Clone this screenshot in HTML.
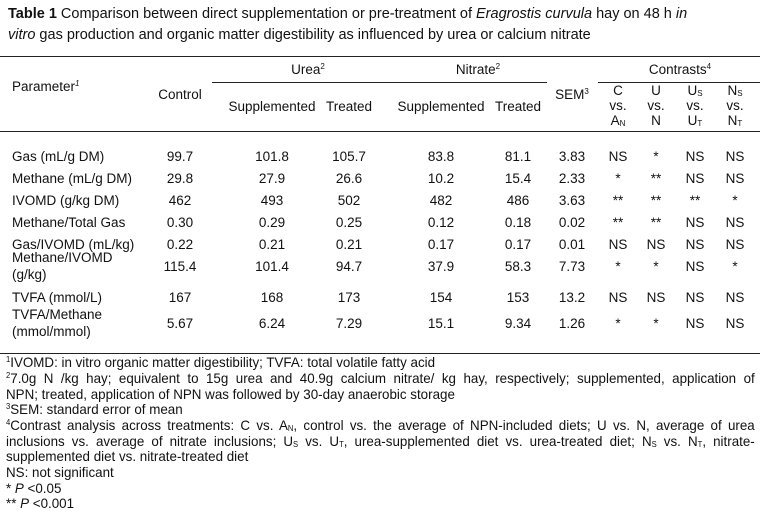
<!DOCTYPE html>
<html><head><meta charset="utf-8"><style>
body{margin:0;width:760px;height:512px;background:#fff;position:relative;overflow:hidden;font-family:"Liberation Sans",Arial,sans-serif;color:#111}
.t{position:absolute;font-size:13.5px;white-space:nowrap;line-height:17px}
.c{text-align:center;transform:translateX(-50%)}
.l{position:absolute;height:1px;background:#222}
.f{position:absolute;left:6px;font-size:14px;white-space:nowrap;transform:scaleX(0.955);transform-origin:left;line-height:16px;width:784px}
.j{text-align:justify;text-align-last:justify}
sup{font-size:8px;vertical-align:5px;line-height:0}
sub{font-size:8px;vertical-align:-1px;line-height:0}
</style></head><body>
<div class="t" style="left:8px;top:4px;font-size:14.5px;line-height:21px"><b>Table 1</b> Comparison between direct supplementation or pre-treatment of <i>Eragrostis curvula</i> hay on 48 h <i>in</i><br><i>vitro</i> gas production and organic matter digestibility as influenced by urea or calcium nitrate</div>
<div class="l" style="left:0;top:56px;width:760px"></div>
<div class="l" style="left:212px;top:82px;width:335px"></div>
<div class="l" style="left:598px;top:82px;width:162px"></div>
<div class="l" style="left:0;top:131px;width:760px"></div>
<div class="l" style="left:0;top:353px;width:760px"></div>
<div id="tbl"></div>
<div class="t" style="left:12px;top:78px">Parameter<sup><i>1</i></sup></div>
<div class="t c" style="left:180px;top:86px">Control</div>
<div class="t c" style="left:308px;top:61px">Urea<sup>2</sup></div>
<div class="t c" style="left:478px;top:61px">Nitrate<sup>2</sup></div>
<div class="t c" style="left:680px;top:61px">Contrasts<sup>4</sup></div>
<div class="t c" style="left:272px;top:98px">Supplemented</div>
<div class="t c" style="left:349px;top:98px">Treated</div>
<div class="t c" style="left:441px;top:98px">Supplemented</div>
<div class="t c" style="left:518px;top:98px">Treated</div>
<div class="t c" style="left:572px;top:86px">SEM<sup>3</sup></div>
<div class="t c" style="left:618px;top:83px;line-height:15px">C<br>vs.<br>A<sub>N</sub></div>
<div class="t c" style="left:656px;top:83px;line-height:15px">U<br>vs.<br>N</div>
<div class="t c" style="left:695px;top:83px;line-height:15px">U<sub>S</sub><br>vs.<br>U<sub>T</sub></div>
<div class="t c" style="left:735px;top:83px;line-height:15px">N<sub>S</sub><br>vs.<br>N<sub>T</sub></div>
<div class="f" style="top:354px"><sup>1</sup>IVOMD: in vitro organic matter digestibility; TVFA: total volatile fatty acid</div>
<div class="f j" style="top:370px"><sup>2</sup>7.0g N /kg hay; equivalent to 15g urea and 40.9g calcium nitrate/ kg hay, respectively; supplemented, application of</div>
<div class="f" style="top:386px">NPN; treated, application of NPN was followed by 30-day anaerobic storage</div>
<div class="f" style="top:401px"><sup>3</sup>SEM: standard error of mean</div>
<div class="f j" style="top:417px"><sup>4</sup>Contrast analysis across treatments: C vs. A<sub>N</sub>, control vs. the average of NPN-included diets; U vs. N, average of urea</div>
<div class="f j" style="top:433px">inclusions vs. average of nitrate inclusions; U<sub>S</sub> vs. U<sub>T</sub>, urea-supplemented diet vs. urea-treated diet; N<sub>S</sub> vs. N<sub>T</sub>, nitrate-</div>
<div class="f" style="top:448px">supplemented diet vs. nitrate-treated diet</div>
<div class="f" style="top:464px">NS: not significant</div>
<div class="f" style="top:480px">* <i>P</i> &lt;0.05</div>
<div class="f" style="top:495px">** <i>P</i> &lt;0.001</div>
<script>
const params=[["Gas (mL/g DM)"],["Methane (mL/g DM)"],["IVOMD (g/kg DM)"],["Methane/Total Gas"],["Gas/IVOMD (mL/kg)"],["Methane/IVOMD","(g/kg)"],["TVFA (mmol/L)"],["TVFA/Methane","(mmol/mmol)"]];
const control=["99.7","29.8","462","0.30","0.22","115.4","167","5.67"];
const ureaSupp=["101.8","27.9","493","0.29","0.21","101.4","168","6.24"];
const ureaTreat=["105.7","26.6","502","0.25","0.21","94.7","173","7.29"];
const nitSupp=["83.8","10.2","482","0.12","0.17","37.9","154","15.1"];
const nitTreat=["81.1","15.4","486","0.18","0.17","58.3","153","9.34"];
const sem=["3.83","2.33","3.63","0.02","0.01","7.73","13.2","1.26"];
const cA=["NS","*","**","**","NS","*","NS","*"];
const uN=["*","**","**","**","NS","*","NS","*"];
const uSuT=["NS","NS","**","NS","NS","NS","NS","NS"];
const nSnT=["NS","NS","*","NS","NS","*","NS","NS"];
const rowY=[156,178,200,222,244,266,297,323];
const cols=[[control,180],[ureaSupp,272],[ureaTreat,349],[nitSupp,441],[nitTreat,518],[sem,572],[cA,618],[uN,656],[uSuT,695],[nSnT,735]];
const tb=document.getElementById('tbl');
params.forEach((p,i)=>{
  const d=document.createElement('div');d.className='t';
  
  
  d.style.left='12px';
  d.style.top=(rowY[i]-(p.length*17)/2)+'px';
  d.innerHTML=p.join('<br>');tb.appendChild(d);
  cols.forEach(([arr,x])=>{
    const e=document.createElement('div');e.className='t c';
    
    
    e.style.left=x+'px';e.style.top=(rowY[i]-8.5)+'px';
    e.textContent=arr[i];tb.appendChild(e);
  });
});
</script>
</body></html>
